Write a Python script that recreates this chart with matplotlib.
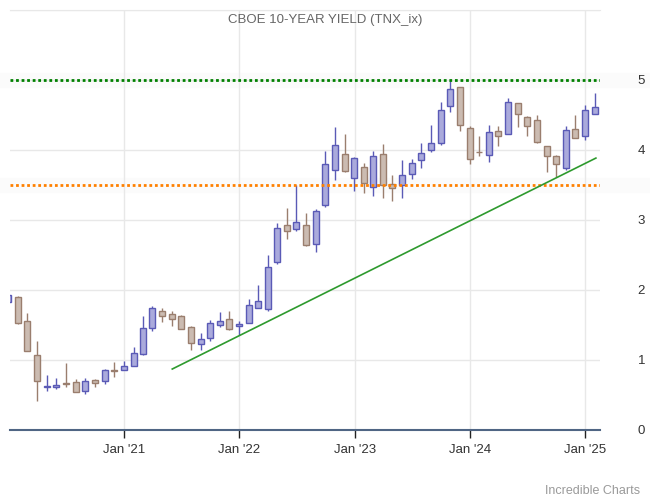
# CBOE 10-year yield, monthly candles with support / resistance levels

from datetime import datetime
import matplotlib
matplotlib.use("Agg")
import matplotlib.pyplot as plt
import matplotlib.dates as mdates
from matplotlib.patches import Rectangle
import pandas as pd

# monthly OHLC, Dec 2019 .. Jan 2025
opens = [1.83, 1.90, 1.55, 1.07, 0.61, 0.61, 0.67, 0.68, 0.55, 0.71, 0.70, 0.85, 0.85,
         0.92, 1.08, 1.45, 1.70, 1.65, 1.62, 1.47, 1.22, 1.31, 1.50, 1.58, 1.48,
         1.52, 1.74, 1.72, 2.40, 2.92, 2.87, 2.92, 2.65, 3.21, 3.71, 3.94, 3.60,
         3.75, 3.47, 3.94, 3.51, 3.50, 3.65, 3.85, 4.00, 4.10, 4.62, 4.90, 4.31,
         3.97, 3.92, 4.27, 4.22, 4.67, 4.47, 4.42, 4.05, 3.91, 3.74, 4.30, 4.20,
         4.51]
highs = [1.94, 1.91, 1.67, 1.27, 0.79, 0.74, 0.96, 0.73, 0.74, 0.73, 0.87, 0.97, 0.99,
         1.19, 1.62, 1.77, 1.74, 1.70, 1.64, 1.48, 1.38, 1.57, 1.68, 1.70, 1.55,
         1.87, 2.07, 2.50, 2.95, 3.17, 3.50, 3.10, 3.15, 3.98, 4.32, 4.22, 3.90,
         3.81, 3.98, 4.08, 3.64, 3.85, 3.87, 4.10, 4.35, 4.68, 5.00, 4.90, 4.34,
         4.20, 4.35, 4.34, 4.74, 4.67, 4.48, 4.50, 4.05, 3.92, 4.34, 4.50, 4.64,
         4.81]
lows = [1.77, 1.51, 1.13, 0.41, 0.55, 0.59, 0.62, 0.54, 0.51, 0.61, 0.66, 0.75, 0.85,
        0.91, 1.07, 1.41, 1.54, 1.48, 1.44, 1.14, 1.14, 1.27, 1.47, 1.42, 1.35,
        1.52, 1.74, 1.70, 2.37, 2.72, 2.84, 2.62, 2.54, 3.18, 3.57, 3.68, 3.41,
        3.38, 3.34, 3.31, 3.27, 3.31, 3.58, 3.74, 3.97, 4.07, 4.54, 4.27, 3.80,
        3.91, 3.82, 4.05, 4.22, 4.32, 4.20, 4.10, 3.68, 3.61, 3.71, 4.17, 4.14,
        4.51]
closes = [1.92, 1.52, 1.13, 0.70, 0.63, 0.64, 0.65, 0.54, 0.70, 0.67, 0.85, 0.84, 0.91,
          1.10, 1.45, 1.74, 1.62, 1.58, 1.44, 1.24, 1.30, 1.52, 1.55, 1.44, 1.51,
          1.78, 1.84, 2.32, 2.88, 2.84, 2.97, 2.64, 3.12, 3.80, 4.07, 3.70, 3.88,
          3.53, 3.91, 3.50, 3.45, 3.64, 3.81, 3.95, 4.10, 4.57, 4.87, 4.35, 3.87,
          3.96, 4.25, 4.20, 4.68, 4.51, 4.34, 4.11, 3.91, 3.80, 4.28, 4.17, 4.57,
          4.61]

months = pd.date_range("2019-12-01", periods=len(opens), freq="ME")

resistance = 5.0
support = 3.5
trend_dates = ["2021-06-02", "2025-02-03"]
trend_values = [0.87, 3.88]

year_ticks = ["2021-01-01", "2022-01-01", "2023-01-01", "2024-01-01", "2025-01-01"]
year_labels = ["Jan '21", "Jan '22", "Jan '23", "Jan '24", "Jan '25"]

up_face, up_edge = "#aaaadc", "#5a5ab6"
dn_face, dn_edge = "#cbbbb1", "#9a7e6e"

plt.rcParams["font.family"] = ["Liberation Sans", "DejaVu Sans"]

fig = plt.figure(figsize=(6.5, 5), dpi=100)
ax = fig.add_axes([10 / 650, 70 / 500, 590 / 650, 420.5 / 500])
ax.set_facecolor("none")

# very faint bands behind the two levels
for lvl in (resistance, support):
    y0 = (70 + lvl * 70.08 - 7) / 500
    fig.add_artist(Rectangle((0, y0), 1, 14 / 500, transform=fig.transFigure,
                             color="#fbfbfb", zorder=-5))

# grid
for yv in range(1, 7):
    ax.axhline(yv, color="#e8e8e8", lw=1, zorder=0)
for d in year_ticks:
    ax.axvline(pd.Timestamp(d), color="#e8e8e8", lw=1, zorder=0)

# candles
for d, o, h, l, c in zip(months, opens, highs, lows, closes):
    up = c >= o
    face, edge = (up_face, up_edge) if up else (dn_face, dn_edge)
    ax.vlines(d, l, h, color=edge, lw=1.0, zorder=2)
    ax.bar(d, max(abs(c - o), 0.012), bottom=min(o, c), width=19,
           facecolor=face, edgecolor=edge, linewidth=1.0, zorder=3)

ax.axhline(resistance, color="#008000", lw=2, linestyle=(0, (1, 1)), zorder=4)
ax.axhline(support, color="#ff8000", lw=2, linestyle=(0, (1, 1)), zorder=4)
ax.plot(pd.to_datetime(trend_dates), trend_values, color="#2e9a2e", lw=1.2, zorder=4)

ax.set_ylim(0, 6)
ax.set_xlim(pd.Timestamp("2020-01-05"), pd.Timestamp("2025-02-16"))

ax.yaxis.tick_right()
ax.set_yticks([0, 1, 2, 3, 4, 5])
ax.tick_params(axis="y", length=0, pad=27, labelsize=9.5, labelcolor="#333333")
ax.set_xticks(pd.to_datetime(year_ticks))
ax.set_xticklabels(year_labels)
ax.tick_params(axis="x", length=6, width=1, color="#222222", pad=4,
               labelsize=9.5, labelcolor="#333333")

for s in ("left", "right"):
    ax.spines[s].set_visible(False)
ax.spines["top"].set_color("#e8e8e8")
ax.spines["bottom"].set_color("#4f6584")
ax.spines["bottom"].set_linewidth(1.5)
ax.spines["bottom"].set_zorder(5)

fig.text(0.5, 1 - 20 / 500, "CBOE 10-YEAR YIELD (TNX_ix)", ha="center", va="center",
         fontsize=9.5, color="#666666")
fig.text(640 / 650, 1 - 491 / 500, "Incredible Charts", ha="right", va="center",
         fontsize=9, color="#9a9a9a")

fig.savefig("out.png", dpi=100)
